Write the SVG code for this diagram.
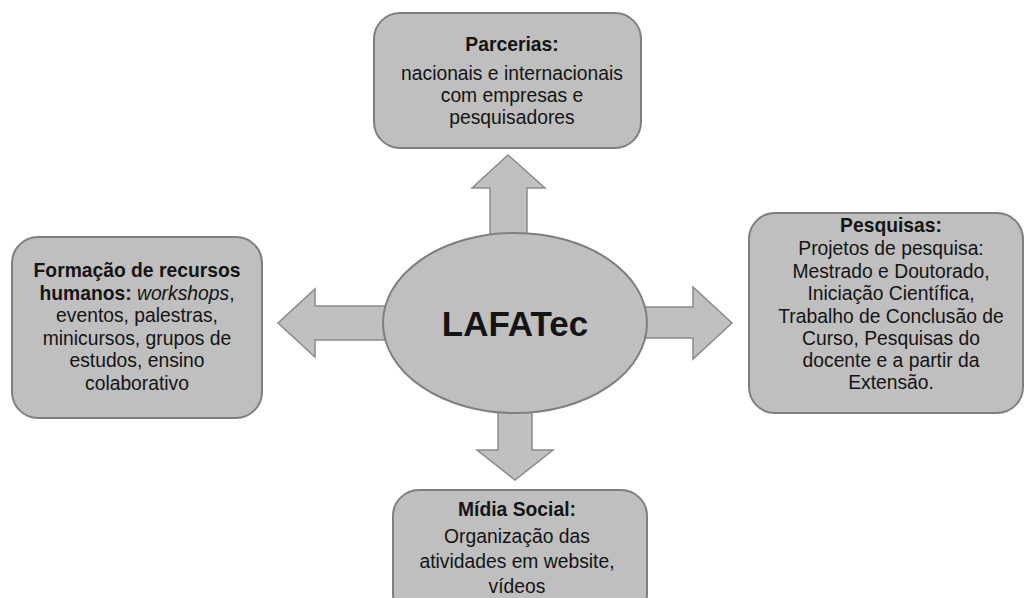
<svg xmlns="http://www.w3.org/2000/svg" width="1025" height="598" viewBox="0 0 1025 598">
<style>
.box{fill:#bfbfbf;stroke:#7f7f7f;stroke-width:2}
.arr{fill:#c0c0c0;stroke:#8a8a8a;stroke-width:1.5;stroke-linejoin:miter}
text{font-family:"Liberation Sans",Arial,sans-serif;font-size:19.3px;fill:#141414;text-anchor:middle}
.b{font-weight:bold}
.i{font-style:italic;font-weight:normal}
.big{font-size:35px;font-weight:bold}
</style>
<rect width="1025" height="598" fill="#ffffff"/>
<g id="connectors">
<path class="arr" d="M490,240 L490,188 L472,188 L508,155 L545,188 L527,188 L527,240 Z"/>
<path class="arr" d="M390,306 L315,306 L315,289 L278,323 L315,357 L315,340 L390,340 Z"/>
<path class="arr" d="M640,307 L693,307 L693,287 L732,323 L693,359 L693,338 L640,338 Z"/>
<path class="arr" d="M498,405 L532,405 L532,450 L553,450 L515,480 L477,450 L498,450 Z"/>
</g>
<g id="center">
<ellipse class="box" cx="515" cy="323" rx="132" ry="90"/>
<text class="big" x="515" y="336">LAFATec</text>
</g>
<g id="parcerias">
<rect class="box" x="374" y="13" width="267" height="135" rx="26"/>
<text class="b" x="512" y="51">Parcerias:</text>
<text x="512" y="80">nacionais e internacionais</text>
<text x="512" y="102">com empresas e</text>
<text x="512" y="124">pesquisadores</text>
</g>
<g id="formacao">
<rect class="box" x="12" y="237" width="250" height="181" rx="26"/>
<text class="b" x="137" y="277">Formação de recursos</text>
<text class="b" x="137" y="299.5">humanos: <tspan class="i">workshops</tspan><tspan font-weight="normal">,</tspan></text>
<text x="137" y="322">eventos, palestras,</text>
<text x="137" y="344.5">minicursos,  grupos de</text>
<text x="137" y="367">estudos, ensino</text>
<text x="137" y="389.5">colaborativo</text>
</g>
<g id="pesquisas">
<rect class="box" x="749" y="213" width="274" height="200" rx="26"/>
<text class="b" x="891" y="232">Pesquisas:</text>
<text x="891" y="255">Projetos de pesquisa:</text>
<text x="891" y="278">Mestrado e Doutorado,</text>
<text x="891" y="300">Iniciação Científica,</text>
<text x="891" y="323">Trabalho de Conclusão de</text>
<text x="891" y="345">Curso, Pesquisas do</text>
<text x="891" y="367">docente e a partir da</text>
<text x="891" y="389">Extensão.</text>
</g>
<g id="midia">
<rect class="box" x="393" y="490" width="254" height="130" rx="26"/>
<text class="b" x="517" y="516">Mídia Social:</text>
<text x="517" y="543">Organização das</text>
<text x="517" y="568">atividades em website,</text>
<text x="517" y="593">vídeos</text>
</g>
</svg>
